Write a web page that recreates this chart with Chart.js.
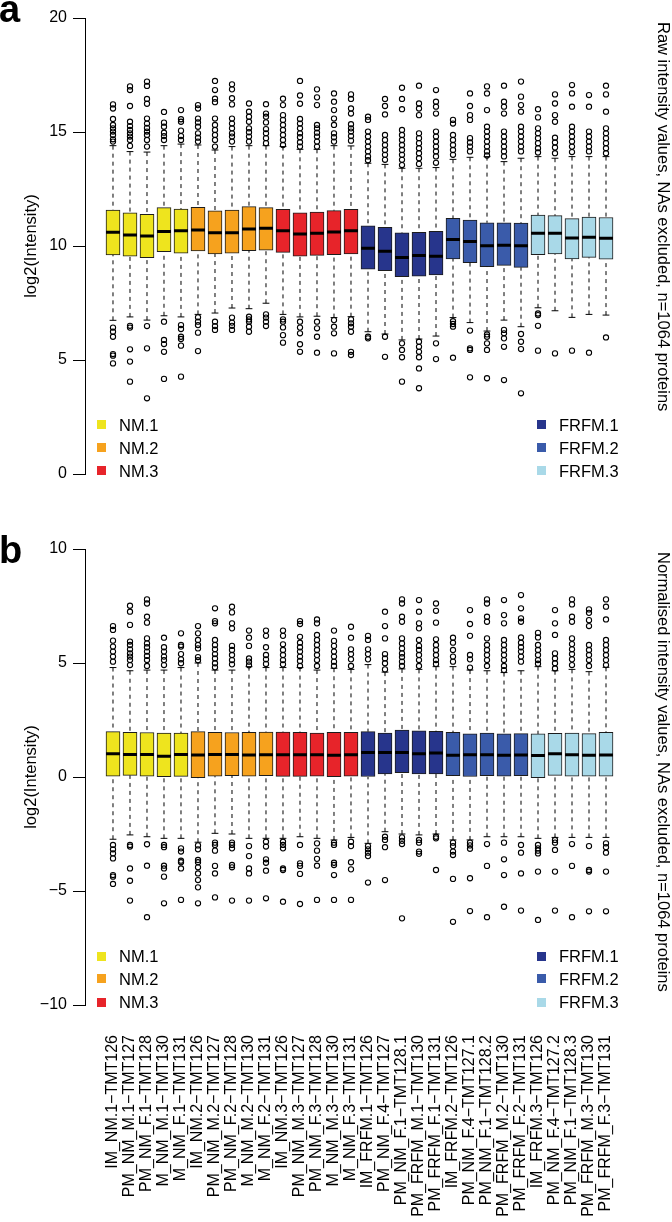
<!DOCTYPE html>
<html><head><meta charset="utf-8">
<script src="https://cdn.jsdelivr.net/npm/chart.js@4.4.1/dist/chart.umd.min.js"></script>
<style>
html,body{margin:0;padding:0;background:#fff;overflow:hidden;}
body{width:672px;height:1222px;position:relative;font-family:'Liberation Sans',Arial,Helvetica,sans-serif;color:#000;}
canvas{position:absolute;left:0;}
.side{position:absolute;writing-mode:vertical-rl;font-size:16.5px;line-height:19px;white-space:nowrap;}
.letter{position:absolute;font-weight:bold;font-size:38px;line-height:38px;}
.lg{position:absolute;font-size:16.5px;line-height:19px;white-space:nowrap;}
.sq{position:absolute;width:9px;height:9px;}
</style></head><body>
<canvas id="ca" width="672" height="530" style="top:0px"></canvas>
<canvas id="cb" width="672" height="692" style="top:530px"></canvas>
<script>
// ---------- categories / groups ----------
const categories = ['IM_NM.1−TMT126','PM_NM_M.1−TMT127','PM_NM_F.1−TMT128','M_NM_M.1−TMT130','M_NM_F.1−TMT131',
 'IM_NM.2−TMT126','PM_NM_M.2−TMT127','PM_NM_F.2−TMT128','M_NM_M.2−TMT130','M_NM_F.2−TMT131',
 'IM_NM.3−TMT126','PM_NM_M.3−TMT127','PM_NM_F.3−TMT128','M_NM_M.3−TMT130','M_NM_F.3−TMT131',
 'IM_FRFM.1−TMT126','PM_NM_F.4−TMT127','PM_NM_F.1−TMT128.1','PM_FRFM_M.1−TMT130','PM_FRFM_F.1−TMT131',
 'IM_FRFM.2−TMT126','PM_NM_F.4−TMT127.1','PM_NM_F.1−TMT128.2','PM_FRFM_M.2−TMT130','PM_FRFM_F.2−TMT131',
 'IM_FRFM.3−TMT126','PM_NM_F.4−TMT127.2','PM_NM_F.1−TMT128.3','PM_FRFM_M.3−TMT130','PM_FRFM_F.3−TMT131'];
const groupNames = ['NM.1','NM.2','NM.3','FRFM.1','FRFM.2','FRFM.3'];
const groupColors = ['#EEE41E','#F6A21E','#E7242A','#27358C','#3A5BAA','#A9D9E8'];
const groupOfBox = [0,0,0,0,0,1,1,1,1,1,2,2,2,2,2,3,3,3,3,3,4,4,4,4,4,5,5,5,5,5];

// ---------- panel a: raw intensities ----------
const q1A  = [9.61,9.55,9.49,9.75,9.69, 9.78,9.65,9.69,9.80,9.82, 9.72,9.55,9.59,9.62,9.65, 8.98,8.92,8.66,8.68,8.73, 9.43,9.27,9.09,9.15,9.06, 9.62,9.65,9.43,9.50,9.42];
const medA = [10.60,10.48,10.44,10.64,10.67, 10.70,10.58,10.58,10.75,10.78, 10.67,10.53,10.56,10.61,10.67, 9.90,9.77,9.50,9.58,9.55, 10.29,10.20,10.01,10.03,10.01, 10.56,10.56,10.35,10.38,10.34];
const q3A  = [11.58,11.46,11.39,11.68,11.62, 11.70,11.54,11.58,11.73,11.68, 11.61,11.45,11.49,11.55,11.61, 10.89,10.82,10.58,10.60,10.64, 11.21,11.14,11.02,11.02,11.00, 11.36,11.33,11.20,11.27,11.25];
const loA  = [6.74,6.89,6.75,6.94,6.89, 7.00,7.06,7.28,7.25,7.49, 7.00,6.89,6.92,6.86,6.90, 6.24,6.14,5.88,5.92,6.05, 6.86,6.64,6.27,6.75,6.46, 7.29,7.16,6.87,7.00,6.97];
const hiA  = [14.40,14.14,14.12,14.40,14.47, 14.43,14.21,14.36,14.40,14.40, 14.36,14.24,14.24,14.40,14.39, 13.63,13.58,13.41,13.41,13.44, 13.80,13.89,13.92,13.70,13.85, 13.92,13.85,13.92,13.92,13.92];
const outA = [
 [16.21,16.03,15.57,15.31,15.16,15.02,14.87,14.68,14.58,6.42,6.24,6.02,5.26,5.19,4.85],
 [17.00,16.84,16.14,15.45,15.26,15.09,14.94,14.80,14.65,14.39,6.50,6.42,5.47,4.93,4.05],
 [17.21,17.02,16.45,16.24,15.59,15.37,15.18,15.02,14.87,14.65,14.36,6.49,5.51,3.32],
 [15.88,15.41,15.23,14.97,14.82,14.65,6.68,5.88,5.70,5.36,4.17],
 [15.96,15.56,15.45,15.06,14.82,14.65,6.53,6.36,6.02,5.92,5.63,4.27],
 [16.18,16.03,15.59,15.42,15.23,14.94,14.75,14.58,6.87,6.68,6.53,6.20,5.39],
 [17.24,16.84,16.46,16.31,15.59,15.31,15.09,14.87,14.65,14.36,6.68,6.49,6.32],
 [17.09,16.87,16.48,16.21,15.59,15.37,15.16,14.94,14.80,14.58,6.86,6.64,6.50,6.32],
 [16.25,15.89,15.67,15.45,15.16,14.99,14.80,14.58,6.90,6.78,6.68,6.46,6.24],
 [16.22,15.81,15.67,15.42,15.13,14.94,14.73,14.51,7.00,6.86,6.68,6.49],
 [16.46,16.18,15.74,15.53,15.31,15.09,14.87,14.65,14.43,6.78,6.68,6.43,6.09,5.76],
 [17.24,16.60,16.24,15.57,15.37,15.16,14.94,14.77,14.55,14.36,6.68,6.42,6.17,5.69,5.36],
 [16.87,16.52,16.18,15.31,15.16,14.97,14.80,14.58,14.36,6.68,6.39,6.02,5.32],
 [16.69,16.33,15.96,15.59,15.31,14.94,14.77,14.58,6.75,6.46,6.17,5.29],
 [16.65,16.45,16.03,15.81,15.34,15.16,15.02,14.82,14.62,6.78,6.61,6.46,6.24,5.36,5.22],
 [15.67,15.53,15.02,14.80,14.58,14.36,14.15,13.93,13.76,6.02,5.95],
 [16.45,16.14,15.77,14.87,14.65,14.43,14.21,14.00,13.78,6.02,5.14],
 [16.94,16.45,16.00,15.09,14.87,14.65,14.43,14.21,14.00,13.78,13.55,5.73,5.44,5.12,4.05],
 [17.03,16.25,16.03,15.74,14.94,14.73,14.51,14.29,14.07,13.85,13.60,5.80,5.58,5.36,5.12,4.63,3.76],
 [16.84,16.33,16.11,15.81,15.02,14.80,14.58,14.36,14.15,13.93,13.65,5.73,5.04],
 [15.53,15.37,14.87,14.65,14.43,14.21,14.00,6.70,6.58,6.46,5.10],
 [16.69,16.14,15.74,15.53,14.73,14.54,14.36,14.15,6.29,5.51,5.44,4.24],
 [17.00,16.69,15.96,15.23,15.02,14.80,14.58,14.36,14.15,13.97,6.12,6.02,5.73,5.44,4.20],
 [17.03,16.33,16.11,15.81,15.02,14.80,14.58,14.36,14.15,13.93,6.32,6.17,5.95,5.58,4.12],
 [17.21,16.55,16.18,15.89,15.23,15.02,14.80,14.58,14.36,14.15,6.14,5.80,5.48,3.54],
 [16.00,15.64,15.16,14.94,14.73,14.51,14.29,14.10,7.04,6.97,6.50,5.41],
 [16.65,16.25,15.74,15.45,14.75,14.54,14.32,14.07,5.29],
 [17.06,16.69,16.11,15.23,15.02,14.80,14.58,14.36,14.12,5.41],
 [16.62,16.11,15.02,14.80,14.58,14.36,14.15,5.32],
 [17.03,16.65,15.89,15.16,14.94,14.73,14.51,14.29,14.07,5.99]
];

// ---------- panel b: normalised intensities ----------
const q1B  = [0.04,0.07,0.04,0.01,0.03, -0.03,0.04,0.06,0.04,0.06, 0.03,0.03,0.04,0.01,0.04, 0.00,0.13,0.19,0.13,0.13, 0.06,0.00,0.06,0.04,0.06, -0.03,0.07,0.04,0.04,0.04];
const medB = [1.02,0.99,0.99,0.91,0.99, 0.96,0.99,0.99,0.96,0.98, 0.98,0.98,0.98,0.95,0.98, 1.08,1.08,1.08,1.02,1.05, 0.95,0.98,0.98,0.95,0.96, 0.94,1.02,0.98,0.95,0.96];
const q3B  = [1.99,1.96,1.95,1.93,1.93, 1.99,1.96,1.95,1.96,1.97, 1.97,1.96,1.93,1.96,1.96, 1.99,1.93,2.06,2.02,2.00, 1.96,1.89,1.93,1.89,1.90, 1.89,1.92,1.93,1.90,1.96];
const loB  = [-2.73,-2.54,-2.62,-2.69,-2.69, -2.86,-2.47,-2.50,-2.69,-2.69, -2.69,-2.62,-2.69,-2.76,-2.65, -2.91,-2.40,-2.50,-2.54,-2.50, -2.76,-2.76,-2.62,-2.62,-2.62, -2.69,-2.65,-2.65,-2.65,-2.65];
const hiB  = [4.80,4.66,4.69,4.69,4.80, 5.00,4.69,4.69,4.84,4.80, 4.80,4.80,4.69,4.77,4.72, 4.93,4.60,4.74,4.72,4.84, 4.84,4.69,4.66,4.58,4.66, 4.84,4.66,4.72,4.62,4.81];
const outB = [
 [6.62,6.45,5.98,5.72,5.50,5.28,5.06,-2.98,-3.17,-3.35,-3.57,-4.30,-4.37,-4.69],
 [7.51,7.25,6.67,5.94,5.79,5.60,5.42,5.28,5.13,4.91,-2.98,-3.05,-4.01,-4.55,-5.42],
 [7.79,7.61,7.03,6.77,6.08,5.86,5.69,5.50,5.31,5.13,4.87,-2.95,-3.89,-6.15],
 [6.11,5.69,5.50,5.28,5.13,4.91,-2.98,-3.08,-3.89,-4.01,-4.37,-5.54],
 [6.30,5.79,5.72,5.39,5.16,4.99,-3.13,-3.27,-3.67,-3.74,-4.01,-5.39],
 [6.62,6.30,6.01,5.79,5.64,5.26,5.12,-3.00,-3.17,-3.64,-3.74,-3.96,-4.23,-4.52,-4.84,-5.54],
 [7.40,6.84,6.74,6.01,5.79,5.60,5.39,5.20,4.99,4.81,-2.88,-2.98,-3.23,-3.90,-4.23,-5.28],
 [7.47,7.22,6.74,6.52,5.75,5.57,5.35,5.13,4.94,-2.88,-2.98,-3.13,-3.86,-3.96,-5.42],
 [6.42,6.11,5.75,5.20,5.06,4.90,-3.03,-3.47,-4.01,-4.23,-5.42],
 [6.42,6.19,5.69,5.35,5.16,4.96,-2.84,-3.05,-3.61,-3.76,-4.11,-5.32],
 [6.42,6.19,5.82,5.57,5.35,5.13,4.94,-2.84,-2.98,-3.13,-4.01,-4.08,-5.47],
 [6.84,6.71,6.15,5.89,5.69,5.50,5.28,5.09,4.87,-2.98,-3.79,-3.90,-4.25,-5.57],
 [6.91,6.74,6.23,6.01,5.79,5.57,5.35,5.13,4.87,-2.91,-3.23,-3.59,-3.89,-5.39],
 [6.42,5.97,5.75,5.50,5.28,5.06,4.87,-2.88,-2.98,-3.76,-3.86,-4.30,-5.39],
 [6.59,6.11,5.60,5.39,5.16,4.87,-2.84,-3.03,-3.74,-4.05,-5.39],
 [6.19,6.01,5.60,5.39,5.16,-3.03,-3.17,-3.32,-3.47,-4.63],
 [7.25,6.62,6.08,5.39,5.20,4.99,4.72,-2.62,-2.76,-3.08,-4.52],
 [7.79,7.61,7.03,6.81,6.08,5.86,5.64,5.42,5.26,5.06,4.87,-2.65,-2.80,-2.94,-6.20],
 [7.76,7.25,6.74,6.52,6.01,5.75,5.57,5.35,5.13,4.87,-2.76,-2.88,-3.27,-3.37],
 [7.61,7.29,6.77,6.04,5.79,5.57,5.35,5.13,4.96,-2.62,-2.69,-4.08],
 [6.11,5.89,5.57,5.28,5.06,-2.88,-3.03,-3.27,-3.42,-4.47,-6.35],
 [7.32,6.71,6.19,5.35,5.16,4.80,-2.88,-3.00,-3.15,-4.44,-5.88],
 [7.79,7.61,7.03,6.81,6.08,5.79,5.57,5.35,5.13,4.87,-2.94,-3.90,-6.15],
 [7.76,7.10,6.74,6.01,5.79,5.57,5.35,5.13,4.87,4.69,-2.88,-3.61,-4.30,-5.69],
 [7.98,7.40,6.96,6.81,6.12,5.89,5.69,5.50,5.28,5.06,-2.98,-3.32,-4.23,-5.86],
 [6.32,6.12,5.79,5.57,5.35,5.13,4.97,-2.98,-3.13,-3.23,-3.35,-4.15,-6.27],
 [7.32,6.74,6.23,5.42,5.20,4.99,4.76,-2.76,-2.88,-3.20,-4.15,-5.86],
 [7.79,7.57,7.03,6.81,6.08,5.83,5.60,5.39,5.16,4.91,-2.94,-3.90,-6.15],
 [7.35,7.20,6.88,6.62,5.79,5.57,5.35,5.13,4.87,-3.03,-4.08,-4.15,-5.89],
 [7.79,7.47,6.91,6.01,5.79,5.57,5.35,5.13,4.91,-2.91,-3.08,-3.32,-4.15,-5.89]
];

const yTicksA = [0,5,10,15,20];
const yTicksB = [-10,-5,0,5,10];
const sideTextA = 'Raw intensity values, NAs excluded, n=1064 proteins';
const sideTextB = 'Normalised intensity values, NAs excluded, n=1064 proteins';
const yTitle = 'log2(Intensity)';

Chart.defaults.font.family = "'Liberation Sans', Arial, Helvetica, sans-serif";
Chart.defaults.color = '#000';

function makePanel(canvasId, st, yr, yTicks, showLabels, pad) {
  const xs = categories.map((_, i) => i + 1);
  const colors = groupOfBox.map(g => groupColors[g]);
  const boxData = xs.map((x, i) => ({x: x, y: [st.q1[i], st.q3[i]]}));
  const med = [], whisk = [], caps = [], outs = [];
  xs.forEach((x, i) => {
    med.push({x: x - 0.41, y: st.med[i]}, {x: x + 0.41, y: st.med[i]}, {x: x, y: null});
    whisk.push({x: x, y: st.hi[i]}, {x: x, y: st.q3[i]}, {x: x, y: null},
               {x: x, y: st.lo[i]}, {x: x, y: st.q1[i]}, {x: x, y: null});
    caps.push({x: x - 0.2, y: st.hi[i]}, {x: x + 0.2, y: st.hi[i]}, {x: x, y: null},
              {x: x - 0.2, y: st.lo[i]}, {x: x + 0.2, y: st.lo[i]}, {x: x, y: null});
    st.out[i].forEach(v => outs.push({x: x, y: v}));
  });
  return new Chart(document.getElementById(canvasId), {
    type: 'bar',
    data: {
      datasets: [
        {type: 'bar', data: boxData, backgroundColor: colors, borderColor: '#1c1c1c', borderWidth: 1,
         borderSkipped: false, barThickness: 14, grouped: false, order: 5},
        {type: 'line', data: whisk, borderColor: '#000', borderWidth: 1, borderDash: [4, 4],
         pointRadius: 0, spanGaps: false, tension: 0, order: 4},
        {type: 'line', data: caps, borderColor: '#000', borderWidth: 1, pointRadius: 0,
         spanGaps: false, tension: 0, order: 3},
        {type: 'line', data: med, borderColor: '#000', borderWidth: 3, borderCapStyle: 'butt',
         pointRadius: 0, spanGaps: false, tension: 0, order: 2},
        {type: 'scatter', data: outs, showLine: false, pointStyle: 'circle', pointRadius: 2.6,
         pointBorderWidth: 1.1, pointBorderColor: '#000', pointBackgroundColor: 'rgba(0,0,0,0)', order: 1}
      ]
    },
    options: {
      responsive: false, animation: false, devicePixelRatio: 1, events: [],
      layout: {padding: pad},
      plugins: {legend: {display: false}, tooltip: {enabled: false}},
      scales: {
        x: {
          type: 'linear', display: showLabels, min: -0.647, max: 31.647, offset: false,
          afterBuildTicks: s => { s.ticks = xs.map(v => ({value: v})); },
          ticks: {autoSkip: false, maxRotation: 90, minRotation: 90, padding: 30, color: '#000',
                  font: {size: 16}, callback: v => categories[v - 1] || ''},
          grid: {display: false, drawTicks: false, offset: false}, border: {display: false},
          afterFit: s => { s.height = showLabels ? 217 : 0; }
        },
        y: {
          type: 'linear', min: yr[0], max: yr[1],
          afterBuildTicks: s => { s.ticks = yTicks.map(v => ({value: v})); },
          ticks: {color: '#000', font: {size: 16}, padding: 6,
                  callback: v => (v < 0 ? '\u2212' + Math.abs(v) : String(v))},
          grid: {display: true, drawOnChartArea: false, drawTicks: true, tickLength: 12,
                 color: '#000', lineWidth: 1},
          border: {display: true, color: '#000', width: 1},
          title: {display: true, text: yTitle, color: '#000', font: {size: 16.5},
                  padding: {top: 22, bottom: 0}},
          afterFit: s => { s.width = 85; }
        }
      }
    }
  });
}

makePanel('ca', {q1: q1A, med: medA, q3: q3A, lo: loA, hi: hiA, out: outA}, [0, 20], yTicksA, false,
          {top: 18, bottom: 56, left: 0, right: 38});
makePanel('cb', {q1: q1B, med: medB, q3: q3B, lo: loB, hi: hiB, out: outB}, [-10, 10], yTicksB, true,
          {top: 19, bottom: 0, left: 0, right: 38});

// ---------- texts: panel letters, side titles, legends ----------
function addDiv(cls, text, css) {
  const d = document.createElement('div');
  d.className = cls; d.textContent = text || '';
  Object.assign(d.style, css);
  document.body.appendChild(d);
  return d;
}
addDiv('letter', 'a', {left: '-1px', top: '-10px'});
addDiv('letter', 'b', {left: '-1px', top: '531px'});
addDiv('side', sideTextA, {left: '654px', top: '22px'});
addDiv('side', sideTextB, {left: '654px', top: '552px'});

function legend(rowCenters) {
  groupNames.forEach((name, g) => {
    const col = g < 3 ? 0 : 1;
    const row = g % 3;
    const cy = rowCenters[row];
    const sqLeft = col === 0 ? 97 : 537;
    const txLeft = col === 0 ? 119 : 559;
    addDiv('sq', '', {left: sqLeft + 'px', top: (cy - 5) + 'px', background: groupColors[g]});
    addDiv('lg', name, {left: txLeft + 'px', top: (cy - 9.3) + 'px'});
  });
}
legend([425, 448, 471]);
legend([956.5, 979, 1002.5]);
</script>
</body></html>
